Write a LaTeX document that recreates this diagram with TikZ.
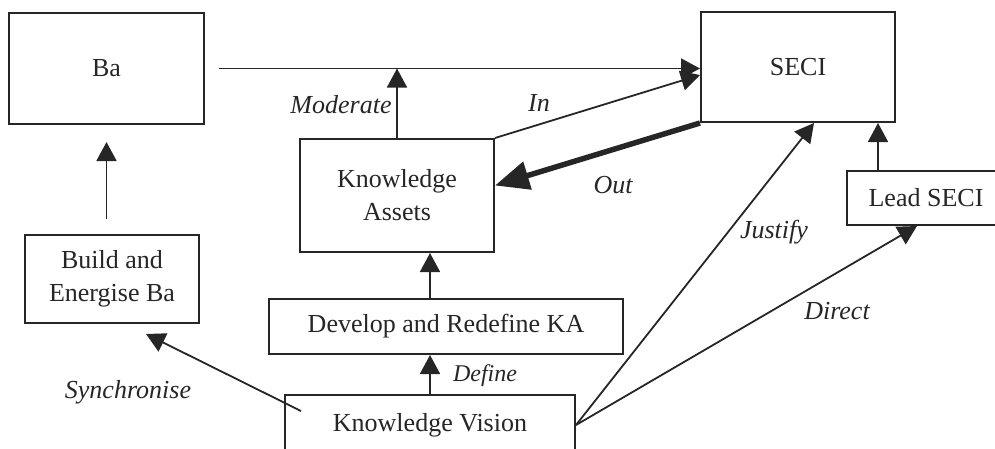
\documentclass[tikz,border=0pt]{standalone}
\usepackage{fontspec}
\setmainfont{Liberation Serif}
\usetikzlibrary{arrows.meta}
\definecolor{ink}{gray}{0.15}
\begin{document}
\begin{tikzpicture}[x=1pt,y=-1pt,
  box/.style={draw=ink, line width=2pt, fill=white, inner sep=0pt, align=center,
              font=\fontsize{26}{33}\selectfont, text=ink},
  conn/.style={draw=ink, line width=1.8pt, -{Triangle[length=19pt,width=20pt]}},
  bold conn/.style={draw=ink, line width=5.5pt, -{Triangle[length=34pt,width=28pt]}},
  lbl/.style={font=\fontsize{26}{30}\selectfont\itshape, text=ink, inner sep=0pt},
]
\useasboundingbox (0,0) rectangle (995,448);
\clip (0,0) rectangle (995,448);

% boxes
\node[box, minimum width=195, minimum height=111] (Ba) at (106.5,68.5) {Ba};
\node[box, minimum width=194, minimum height=110] (SECI) at (798,67) {SECI};
\node[box, minimum width=194, minimum height=113] (KA) at (397,195.5) {Knowledge\\Assets};
\node[box, minimum width=174, minimum height=88] (Build) at (112,279) {Build and\\Energise Ba};
\node[box, minimum width=354, minimum height=55] (Develop) at (446,326.5) {Develop and Redefine KA};
\node[box, minimum width=290, minimum height=60] (KV) at (430,425) {Knowledge Vision};
\node[box, minimum width=158, minimum height=54] (Lead) at (926,198) {Lead SECI};

% connectors
\draw[conn] ([xshift=14]Ba.east) -- (SECI.west |- Ba.east);
\draw[conn] (KA.north) -- (KA.north |- Ba.east);
\draw[conn] (KA.north east) -- ([yshift=-8]SECI.west);
\draw[bold conn] (SECI.south west) -- ([yshift=10]KA.east);
\draw[conn] ([yshift=15]Ba.south |- Build.north) -- ([yshift=-17]Ba.south);
\draw[conn] (KV.north |- Develop.north) -- (KV.north |- KA.south);
\draw[conn] (KV.north) -- (KV.north |- Develop.south);
\draw[conn] ([shift={(17,17)}]KV.north west) -- ([shift={(-54,10)}]Build.south east);
\draw[conn] (KV.east) -- ([xshift=16]SECI.south);
\draw[conn] (KV.east) -- ([xshift=-9]Lead.south);
\coordinate (leadtop) at ([xshift=32]Lead.north west);
\draw[conn] (leadtop) -- (leadtop |- SECI.south);

% connector labels
\node[lbl] (mod) at (341,105) {Moderate};
\node[lbl] (in) at (539,103) {In};
\node[lbl] (out) at (613,185) {Out};
\node[lbl] (just) at (774,232) {Justify};
\node[lbl] (dir) at (837,311) {Direct};
\node[lbl] (sync) at (128,392) {Synchronise};
\node[lbl, font=\fontsize{24}{28}\selectfont\itshape] (def) at (485,376) {Define};
\end{tikzpicture}
\end{document}
